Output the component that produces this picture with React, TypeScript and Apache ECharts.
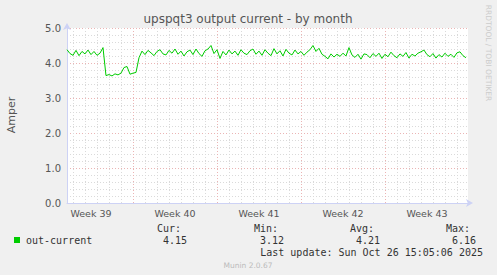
import React, { useEffect, useRef } from "react";
import * as echarts from "echarts";

// x is measured in days from Monday 00:00 of week 39; one sample every 6 hours
const xStart = 1.5;
const xEnd = 34.92;
const step = 0.25;
const values = [
  4.38, 4.27, 4.22, 4.36, 4.21, 4.33, 4.26, 4.37, 4.24, 4.33, 4.22, 4.28, 4.44,
  3.64, 3.67, 3.63, 3.69, 3.66, 3.71, 3.87, 3.90, 3.68, 3.71, 3.73, 4.15,
  4.34, 4.24, 4.36, 4.29, 4.21, 4.33, 4.38, 4.26, 4.23, 4.36, 4.28, 4.40, 4.25,
  4.34, 4.20, 4.32, 4.37, 4.24, 4.40, 4.27, 4.19, 4.35, 4.40, 4.50, 4.27, 4.38,
  4.13, 4.33, 4.23, 4.37, 4.26, 4.34, 4.22, 4.38, 4.28, 4.24, 4.35, 4.40, 4.25,
  4.34, 4.22, 4.38, 4.28, 4.21, 4.41, 4.26, 4.35, 4.20, 4.39, 4.28, 4.23, 4.37,
  4.26,
  4.33, 4.22, 4.31, 4.38, 4.50, 4.33, 4.42, 4.25, 4.19, 4.12, 4.26, 4.17, 4.25,
  4.19, 4.28, 4.20, 4.44, 4.23, 4.16, 4.25, 4.11, 4.26,
  4.24, 4.15, 4.27, 4.19, 4.28, 4.13, 4.25, 4.18, 4.31, 4.21, 4.15, 4.26, 4.19,
  4.30, 4.14, 4.25, 4.20, 4.28, 4.32, 4.37, 4.24, 4.18, 4.27, 4.14, 4.24, 4.17,
  4.28, 4.19, 4.25, 4.16, 4.29, 4.32, 4.21, 4.15,
];
const weekLines = [7, 14, 21, 28];
const dayLines = [2, 3, 4, 5, 6, 8, 9, 10, 11, 12, 13, 15, 16, 17, 18, 19, 20, 22, 23, 24, 25, 26, 27, 29, 30, 31, 32, 33, 34];
const weekCenters = [3.5, 10.5, 17.5, 24.5, 31.5];
const weekLabels = ["Week 39", "Week 40", "Week 41", "Week 42", "Week 43"];
const yTicks = [0, 1, 2, 3, 4, 5];

const seriesName = "out-current";
const statHeads = ["Cur:", "Min:", "Avg:", "Max:"];
const statValues = ["4.15", "3.12", "4.21", "6.16"];
const title = "upspqt3 output current - by month";
const yName = "Amper";
const lastUpdate = "Last update: Sun Oct 26 15:05:06 2025";
const footer = "Munin 2.0.67";
const watermark = "RRDTOOL / TOBI OETIKER";

export default function App() {
  const ref = useRef<HTMLDivElement>(null);
  useEffect(() => {
    if (!ref.current) return;
    const chart = echarts.init(ref.current, null, { renderer: "svg" });
    const points = values.map((v, i) => [xStart + i * step, v]);
    const sans = "DejaVu Sans";
    const mono = "DejaVu Sans Mono";
    const headRight = [181, 278, 374, 470];
    const valRight = [187, 284, 380, 476];
    const minorColor = "#dadada";
    const majorColor = "#ebb4b4";
    const graphic: any[] = [
      { type: "text", x: 248, y: 19, style: { text: title, font: `12px '${sans}'`, fill: "#555", align: "center", verticalAlign: "middle" } },
      { type: "text", x: 11, y: 115, rotation: Math.PI / 2, style: { text: yName, font: `11px '${sans}'`, fill: "#555", align: "center", verticalAlign: "middle" } },
      { type: "text", x: 488, y: 53, rotation: -Math.PI / 2, style: { text: watermark, font: `7.5px '${sans}'`, fill: "#ccc", align: "center", verticalAlign: "middle" } },
      { type: "rect", shape: { x: 14, y: 237, width: 6, height: 6 }, style: { fill: "#00cc00" } },
      { type: "text", x: 26, y: 240, style: { text: seriesName, font: `10px '${mono}'`, fill: "#333", align: "left", verticalAlign: "middle" } },
      ...statHeads.map((t, i) => ({ type: "text", x: headRight[i], y: 228, style: { text: t, font: `10px '${mono}'`, fill: "#333", align: "right", verticalAlign: "middle" } })),
      ...statValues.map((t, i) => ({ type: "text", x: valRight[i], y: 240, style: { text: t, font: `10px '${mono}'`, fill: "#333", align: "right", verticalAlign: "middle" } })),
      { type: "text", x: 483, y: 252, style: { text: lastUpdate, font: `10px '${mono}'`, fill: "#333", align: "right", verticalAlign: "middle" } },
      { type: "text", x: 248, y: 265, style: { text: footer, font: `7.5px '${sans}'`, fill: "#bbb", align: "center", verticalAlign: "middle" } },
    ];
    chart.setOption({
      animation: false,
      backgroundColor: "#f0f0f0",
      grid: { left: 67, top: 28, width: 401, height: 175, show: true, backgroundColor: "#ffffff", borderWidth: 0 },
      xAxis: {
        type: "value",
        min: xStart,
        max: xEnd,
        axisLine: { show: true, lineStyle: { color: "#cdd2f5", width: 1 }, symbol: ["none", "arrow"], symbolSize: [6, 7], symbolOffset: [0, 5] },
        axisTick: { show: false },
        splitLine: { show: false },
        axisLabel: {
          customValues: weekCenters,
          formatter: (v: number) => {
            const i = weekCenters.findIndex((c) => Math.abs(c - v) < 1e-6);
            return i >= 0 ? weekLabels[i] : "";
          },
          color: "#555",
          fontFamily: sans,
          fontSize: 9.5,
          margin: 5,
          showMinLabel: true,
          showMaxLabel: true,
        },
      },
      yAxis: {
        type: "value",
        min: 0,
        max: 5,
        interval: 1,
        axisLine: { show: true, lineStyle: { color: "#cdd2f5", width: 1 }, symbol: ["none", "arrow"], symbolSize: [6, 7], symbolOffset: [0, 5] },
        axisTick: { show: false },
        axisLabel: { color: "#555", fontFamily: sans, fontSize: 10, margin: 6, formatter: (v: number) => (yTicks.includes(v) ? v.toFixed(1) : "") },
        splitLine: { show: true, lineStyle: { color: majorColor, type: [1, 2], width: 1 } },
        minorTick: { show: false, splitNumber: 5 },
        minorSplitLine: { show: true, lineStyle: { color: minorColor, type: [1, 2], width: 1 } },
      },
      graphic,
      series: [
        {
          type: "line",
          data: [],
          silent: true,
          z: 1,
          markLine: {
            silent: true,
            symbol: ["none", "none"],
            label: { show: false },
            animation: false,
            data: [
              ...dayLines.map((d) => ({ xAxis: d, lineStyle: { color: minorColor, type: [1, 2], width: 1 } })),
              ...weekLines.map((d) => ({ xAxis: d, lineStyle: { color: majorColor, type: [1, 2], width: 1 } })),
            ],
          },
        },
        {
          name: seriesName,
          type: "line",
          data: points,
          showSymbol: false,
          z: 5,
          lineStyle: { color: "#00cc00", width: 1 },
          itemStyle: { color: "#00cc00" },
        },
      ],
    });
    return () => chart.dispose();
  }, []);
  return <div ref={ref} style={{ position: "fixed", left: 0, top: 0, width: 497, height: 275 }} />;
}
